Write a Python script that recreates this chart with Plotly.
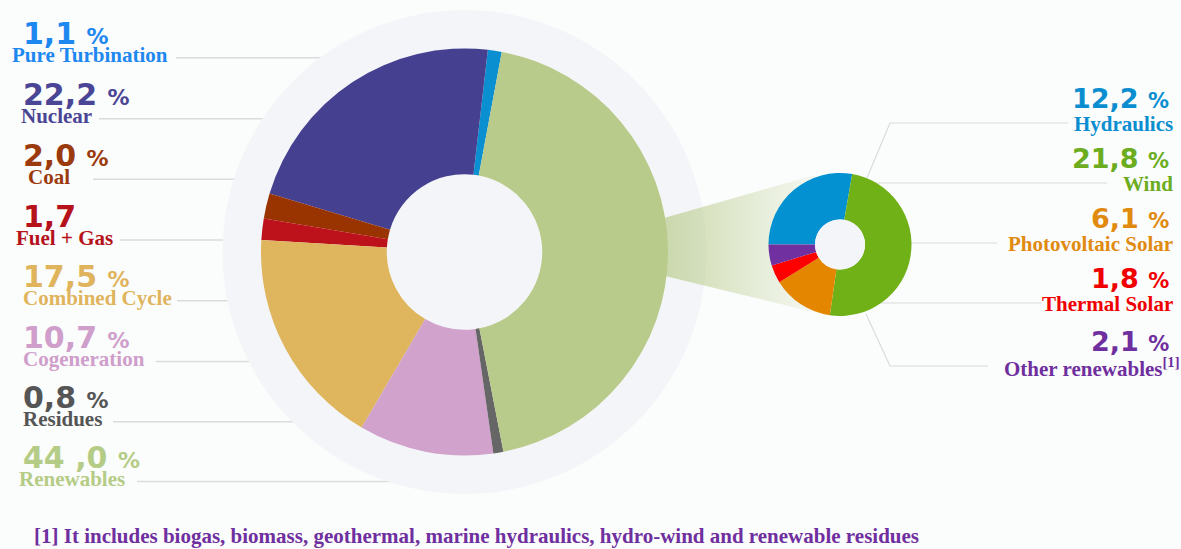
import plotly.graph_objects as go

# ---- data -------------------------------------------------------------
mix_labels = ["Pure Turbination", "Nuclear", "Coal", "Fuel + Gas",
              "Combined Cycle", "Cogeneration", "Residues", "Renewables"]
mix_values = [1.1, 22.2, 2.0, 1.7, 17.5, 10.7, 0.8, 44.0]
mix_value_text = ["1,1", "22,2", "2,0", "1,7", "17,5", "10,7", "0,8", "44 ,0"]
mix_show_pct = [True, True, True, False, True, True, True, True]
mix_slice_colors = ["#0a8fd1", "#454190", "#993300", "#bd111c",
                    "#dfb55e", "#d0a2cc", "#666666", "#b8cb8a"]
mix_text_colors = ["#1e88f0", "#4a4595", "#9b3a0c", "#b5121b",
                   "#e0b45c", "#cf9ecb", "#555555", "#b5cc86"]

ren_labels = ["Hydraulics", "Wind", "Photovoltaic Solar", "Thermal Solar",
              "Other renewables<sup>[1]</sup>"]
ren_values = [12.2, 21.8, 6.1, 1.8, 2.1]
ren_value_text = ["12,2", "21,8", "6,1", "1,8", "2,1"]
ren_slice_colors = ["#0391d1", "#70b118", "#e58600", "#ff0000", "#7030a0"]
ren_text_colors = ["#0a8ed0", "#6cad1f", "#e08a10", "#f00000", "#6f2f9f"]

footnote = ("[1] It includes biogas, biomass, geothermal, marine hydraulics, "
            "hydro-wind and renewable residues")

# ---- layout geometry (pixels) ----------------------------------------
W, H = 1181, 549
BIG_C, BIG_R, BIG_HOLE = (464.5, 252.0), 203.5, 0.382
RING_R = 242.0
SMALL_C, SMALL_R, SMALL_HOLE = (840.0, 244.5), 71.5, 0.35

left_rows_y = [57.7, 118.7, 179.3, 240.0, 300.7, 361.5, 421.7, 481.5]
left_label_x = [11, 20, 27, 15, 22, 22, 22, 18]
left_line_x0 = [176, 99, 93, 120, 177, 156, 113, 137]

right_rows_y = [123, 183, 243, 303, 366]
right_line_paths = [
    [(867, 178), (890, 123), (1068, 123)],
    [(850, 183), (1107, 183)],
    [(900, 243), (997, 243)],
    [(860, 303), (1042, 303)],
    [(866, 314), (890, 366), (988, 366)],
]

BG = "#fbfcfc"
RING = "#f4f5f8"
LINE = "#dadbdc"
NUM_FONT = "DejaVu Sans"
LBL_FONT = "Liberation Serif"


def domain(c, r):
    cx, cy = c
    return dict(x=[(cx - r) / W, (cx + r) / W],
                y=[1 - (cy + r) / H, 1 - (cy - r) / H])


fig = go.Figure()

# funnel linking the renewables slice to the breakdown donut
fig.add_trace(go.Scatter(
    x=[636, 815, 830, 636], y=[226, 175, 316, 269],
    mode="lines", line=dict(width=0), fill="toself",
    fillgradient=dict(type="horizontal",
                      colorscale=[[0, "rgba(184,203,138,0.80)"],
                                  [1, "rgba(184,203,138,0.03)"]]),
    hoverinfo="skip", showlegend=False))

fig.add_trace(go.Pie(
    labels=mix_labels, values=mix_values, sort=False,
    direction="counterclockwise", rotation=6.6, hole=BIG_HOLE,
    marker=dict(colors=mix_slice_colors, line=dict(width=0)),
    textinfo="none", hoverinfo="label+value", showlegend=False,
    domain=domain(BIG_C, BIG_R)))

fig.add_trace(go.Pie(
    labels=["Hydraulics", "Wind", "Photovoltaic Solar", "Thermal Solar",
            "Other renewables"],
    values=ren_values, sort=False,
    direction="clockwise", rotation=-90, hole=SMALL_HOLE,
    marker=dict(colors=ren_slice_colors, line=dict(width=0)),
    textinfo="none", hoverinfo="label+value", showlegend=False,
    domain=domain(SMALL_C, SMALL_R)))

shapes = []
# left leader lines (the grey ring is drawn over their inner ends)
for y, x0 in zip(left_rows_y, left_line_x0):
    shapes.append(dict(type="line", xref="x", yref="y", layer="below",
                       x0=x0, x1=BIG_C[0], y0=y, y1=y,
                       line=dict(color=LINE, width=1.5)))
# grey ring behind the main donut
shapes.append(dict(type="circle", xref="x", yref="y", layer="below",
                   x0=BIG_C[0] - RING_R, x1=BIG_C[0] + RING_R,
                   y0=BIG_C[1] - RING_R, y1=BIG_C[1] + RING_R,
                   fillcolor=RING, line=dict(width=0)))
# right leader lines
for pts in right_line_paths:
    path = "M " + " L ".join(f"{x},{y}" for x, y in pts)
    shapes.append(dict(type="path", xref="x", yref="y", layer="below",
                       path=path, line=dict(color=LINE, width=1.2)))
# hole of the breakdown donut
hr = SMALL_R * SMALL_HOLE
shapes.append(dict(type="circle", xref="x", yref="y", layer="above",
                   x0=SMALL_C[0] - hr, x1=SMALL_C[0] + hr,
                   y0=SMALL_C[1] - hr, y1=SMALL_C[1] + hr,
                   fillcolor=RING, line=dict(width=0)))

annotations = []
for i, lab in enumerate(mix_labels):
    y = left_rows_y[i]
    num = mix_value_text[i]
    if mix_show_pct[i]:
        num += " <span style='font-size:22px'>%</span>"
    annotations.append(dict(
        x=22, y=y - 24, xref="x", yref="y", xanchor="left", yanchor="middle",
        text=num, showarrow=False, borderpad=0,
        font=dict(family=NUM_FONT, size=30, color=mix_text_colors[i],
                  weight="bold")))
    annotations.append(dict(
        x=left_label_x[i], y=y - 2.5, xref="x", yref="y", xanchor="left",
        yanchor="middle", text=lab, showarrow=False, borderpad=0,
        font=dict(family=LBL_FONT, size=21, color=mix_text_colors[i],
                  weight="bold")))

for i, lab in enumerate(ren_labels):
    y = right_rows_y[i]
    num = ren_value_text[i] + " <span style='font-size:21px'>%</span>"
    annotations.append(dict(
        x=1170, y=y - 25, xref="x", yref="y", xanchor="right",
        yanchor="middle", text=num, showarrow=False, borderpad=0,
        font=dict(family=NUM_FONT, size=27, color=ren_text_colors[i],
                  weight="bold")))
    annotations.append(dict(
        x=1174 if i != 4 else 1181, y=y + 1, xref="x", yref="y",
        xanchor="right", yanchor="middle", text=lab, showarrow=False,
        borderpad=0,
        font=dict(family=LBL_FONT, size=21, color=ren_text_colors[i],
                  weight="bold")))

annotations.append(dict(
    x=33, y=536, xref="x", yref="y", xanchor="left", yanchor="middle",
    text=footnote, showarrow=False, borderpad=0,
    font=dict(family=LBL_FONT, size=21, color="#6f2f9f", weight="bold")))

fig.update_layout(
    width=W, height=H, margin=dict(l=0, r=0, t=0, b=0),
    paper_bgcolor=BG, plot_bgcolor=BG,
    xaxis=dict(range=[0, W], visible=False, fixedrange=True),
    yaxis=dict(range=[H, 0], visible=False, fixedrange=True),
    shapes=shapes, annotations=annotations, showlegend=False,
)

fig.write_html("out.html")
